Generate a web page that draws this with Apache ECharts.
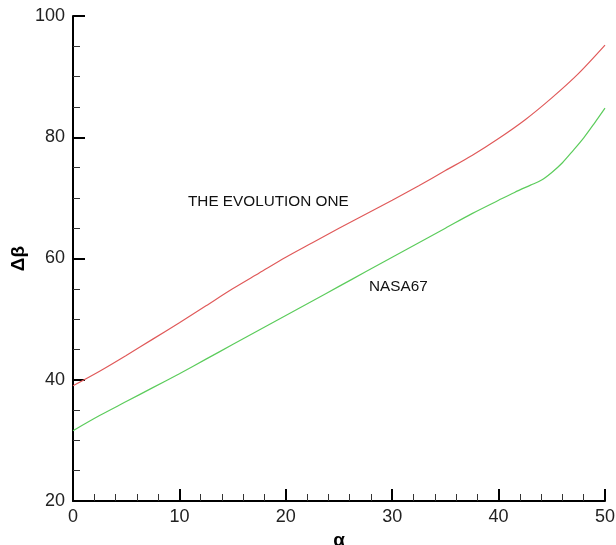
<!DOCTYPE html>
<html><head><meta charset="utf-8">
<script src="https://cdn.jsdelivr.net/npm/echarts@6/dist/echarts.min.js"></script>
<style>html,body{margin:0;padding:0;background:#fff}#c{width:616px;height:545px}</style>
</head><body><div id="c"></div>
<script>
const alpha = [0, 2.5, 5, 7.5, 10, 12.5, 15, 17.5, 20, 22.5, 25, 27.5, 30, 32.5, 35, 37.5, 40, 42.5, 45, 47.5, 50];
const evolutionOne = [39.0, 41.4, 44.0, 46.7, 49.4, 52.2, 55.0, 57.6, 60.2, 62.6, 65.0, 67.3, 69.6, 72.0, 74.5, 77.0, 79.8, 82.9, 86.5, 90.5, 95.2];
const nasa67Alpha = [0, 2.5, 5, 7.5, 10, 12.5, 15, 17.5, 20, 22.5, 25, 27.5, 30, 32.5, 35, 37.5, 40, 41.5, 43, 44, 45, 46, 47, 48, 49, 50];
const nasa67 = [31.6, 34.1, 36.4, 38.7, 41.0, 43.4, 45.8, 48.2, 50.6, 53.0, 55.4, 57.8, 60.2, 62.6, 65.0, 67.4, 69.6, 70.9, 72.1, 72.9, 74.2, 75.8, 77.8, 79.9, 82.3, 84.8];
const xTicks = {min: 0, max: 50, interval: 10};
const yTicks = {min: 20, max: 100, interval: 20};
const labels = [
  {text: 'THE EVOLUTION ONE', x: 188, y: 203},
  {text: 'NASA67', x: 369, y: 288}
];

const font = 'Liberation Sans, Arial, sans-serif';
const chart = echarts.init(document.getElementById('c'));
chart.setOption({
  animation: false,
  backgroundColor: '#fff',
  grid: {left: 73, right: 11, top: 16, bottom: 44, containLabel: false, outerBoundsMode: 'none'},
  xAxis: {
    type: 'value', min: xTicks.min, max: xTicks.max, interval: xTicks.interval,
    name: 'α', nameLocation: 'middle', nameGap: 27,
    nameTextStyle: {fontFamily: font, fontSize: 19, fontWeight: 'bold', color: '#000'},
    axisLine: {show: true, onZero: false, lineStyle: {color: '#000', width: 2}},
    axisTick: {show: true, inside: true, length: 12, lineStyle: {color: '#000', width: 2}},
    minorTick: {show: true, splitNumber: 5, length: 7, lineStyle: {color: '#333', width: 1}},
    axisLabel: {fontFamily: font, fontSize: 18, color: '#222', margin: 7},
    splitLine: {show: false}
  },
  yAxis: {
    type: 'value', min: yTicks.min, max: yTicks.max, interval: yTicks.interval,
    name: 'Δβ', nameLocation: 'middle', nameGap: 45, nameRotate: 90, nameMoveOverlap: false,
    nameTextStyle: {fontFamily: font, fontSize: 19, fontWeight: 'bold', color: '#000'},
    axisLine: {show: true, onZero: false, lineStyle: {color: '#000', width: 2}},
    axisTick: {show: true, inside: true, length: 12, lineStyle: {color: '#000', width: 2}},
    minorTick: {show: true, splitNumber: 4, length: 7, lineStyle: {color: '#333', width: 1}},
    axisLabel: {fontFamily: font, fontSize: 18, color: '#222', margin: 8},
    splitLine: {show: false}
  },
  series: [
    {type: 'line', name: 'THE EVOLUTION ONE', data: alpha.map((a, i) => [a, evolutionOne[i]]),
     smooth: 0.3, symbol: 'none', lineStyle: {color: '#e05a5a', width: 1.2}},
    {type: 'line', name: 'NASA67', data: nasa67Alpha.map((a, i) => [a, nasa67[i]]),
     smooth: 0.3, symbol: 'none', lineStyle: {color: '#5ccc5c', width: 1.2}}
  ],
  graphic: labels.map(l => ({
    type: 'text', left: l.x, top: l.y - 9,
    style: {text: l.text, font: '15.3px ' + font, fill: '#111'}
  }))
});
</script></body></html>
